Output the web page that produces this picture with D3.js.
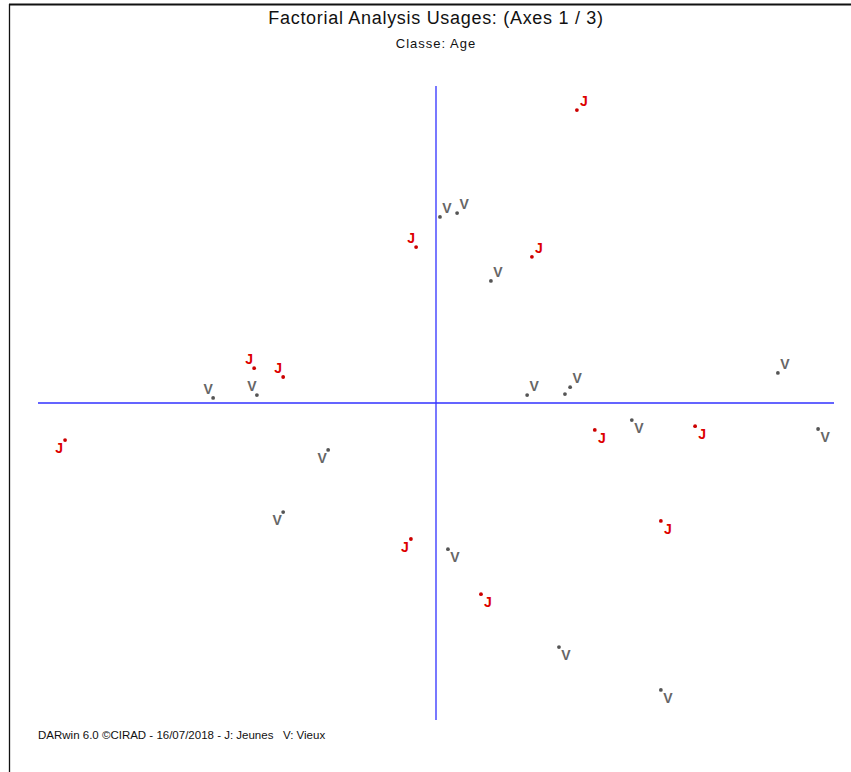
<!DOCTYPE html>
<html><head><meta charset="utf-8">
<script src="https://cdn.jsdelivr.net/npm/d3@7"></script>
<style>body{margin:0;background:#fff}svg{display:block}</style>
</head><body>
<script>
// Data: factorial coordinates (axis 1, axis 3), class and label placement
const classes = ["J","V","V","J","J","V","J","J","V","V","J","V","V","V","V","V","J","V","J","V","V","J","V","J","J","V","V"];
const axis1 = [0.354,0.010,0.053,-0.050,0.241,0.138,-0.457,-0.384,-0.560,-0.450,-0.932,-0.271,0.229,0.324,0.337,0.859,0.399,0.492,0.651,0.960,-0.384,-0.063,0.030,0.113,0.565,0.309,0.565];
const axis3 = [0.924,0.587,0.599,0.492,0.461,0.385,0.110,0.082,0.016,0.025,-0.117,-0.148,0.025,0.028,0.050,0.095,-0.085,-0.054,-0.073,-0.082,-0.344,-0.429,-0.461,-0.603,-0.372,-0.770,-0.905];
const labelSide = ["ne","ne","ne","nw","ne","ne","nw","nw","nw","nw","sw","sw","ne","","ne","ne","se","se","se","se","sw","sw","se","se","se","se","se"];
const title = "Factorial Analysis Usages: (Axes 1 / 3)";
const subtitle = "Classe: Age";
const footer = "DARwin 6.0 \u00A9CIRAD - 16/07/2018 - J: Jeunes   V: Vieux";

const W = 851, H = 772;
const svg = d3.select("body").append("svg").attr("width", W).attr("height", H);
const font = "Liberation Sans, Arial, sans-serif";

// frame
svg.append("line").attr("x1",9).attr("x2",W).attr("y1",4.5).attr("y2",4.5).attr("stroke","#111").attr("stroke-width",2);
svg.append("line").attr("x1",9.5).attr("x2",9.5).attr("y1",4).attr("y2",H).attr("stroke","#111").attr("stroke-width",1.3);

const x = d3.scaleLinear().domain([-1,1]).range([38,834]);
const y = d3.scaleLinear().domain([-1,1]).range([720,86]);

svg.append("line").attr("x1",x(-1)).attr("x2",x(1)).attr("y1",y(0)).attr("y2",y(0)).attr("stroke","#3030ff").attr("stroke-width",1.3);
svg.append("line").attr("x1",x(0)).attr("x2",x(0)).attr("y1",y(1)).attr("y2",y(-1)).attr("stroke","#3030ff").attr("stroke-width",1.3);

svg.append("text").attr("x",436).attr("y",24).attr("text-anchor","middle").attr("font-family",font).attr("font-size",18).attr("letter-spacing",0.7).attr("fill","#111").text(title);
svg.append("text").attr("x",436).attr("y",48).attr("text-anchor","middle").attr("font-family",font).attr("font-size",13).attr("letter-spacing",1).attr("fill","#111").text(subtitle);
svg.append("text").attr("x",38).attr("y",739).attr("font-family",font).attr("font-size",11.5).attr("fill","#111").style("white-space","pre").text(footer);

const data = classes.map((c,i)=>({c, x:axis1[i], y:axis3[i], side:labelSide[i]}));
const color = c => c === "J" ? "#dd0000" : "#666666";
const dotColor = c => c === "J" ? "#cc0000" : "#555555";
const off = {ne:[7,-9], nw:[-5,-9], se:[7,8], sw:[-6,8]};

const g = svg.append("g");
g.selectAll("circle").data(data).join("circle")
  .attr("cx", d=>x(d.x)).attr("cy", d=>y(d.y)).attr("r",1.9).attr("fill", d=>dotColor(d.c));
g.selectAll("text").data(data.filter(d=>d.side)).join("text")
  .attr("x", d=>x(d.x)+off[d.side][0]).attr("y", d=>y(d.y)+off[d.side][1])
  .attr("text-anchor","middle").attr("dominant-baseline","central")
  .attr("font-family",font).attr("font-weight","bold").attr("font-size",14)
  .attr("fill", d=>color(d.c)).text(d=>d.c);
</script>
</body></html>
